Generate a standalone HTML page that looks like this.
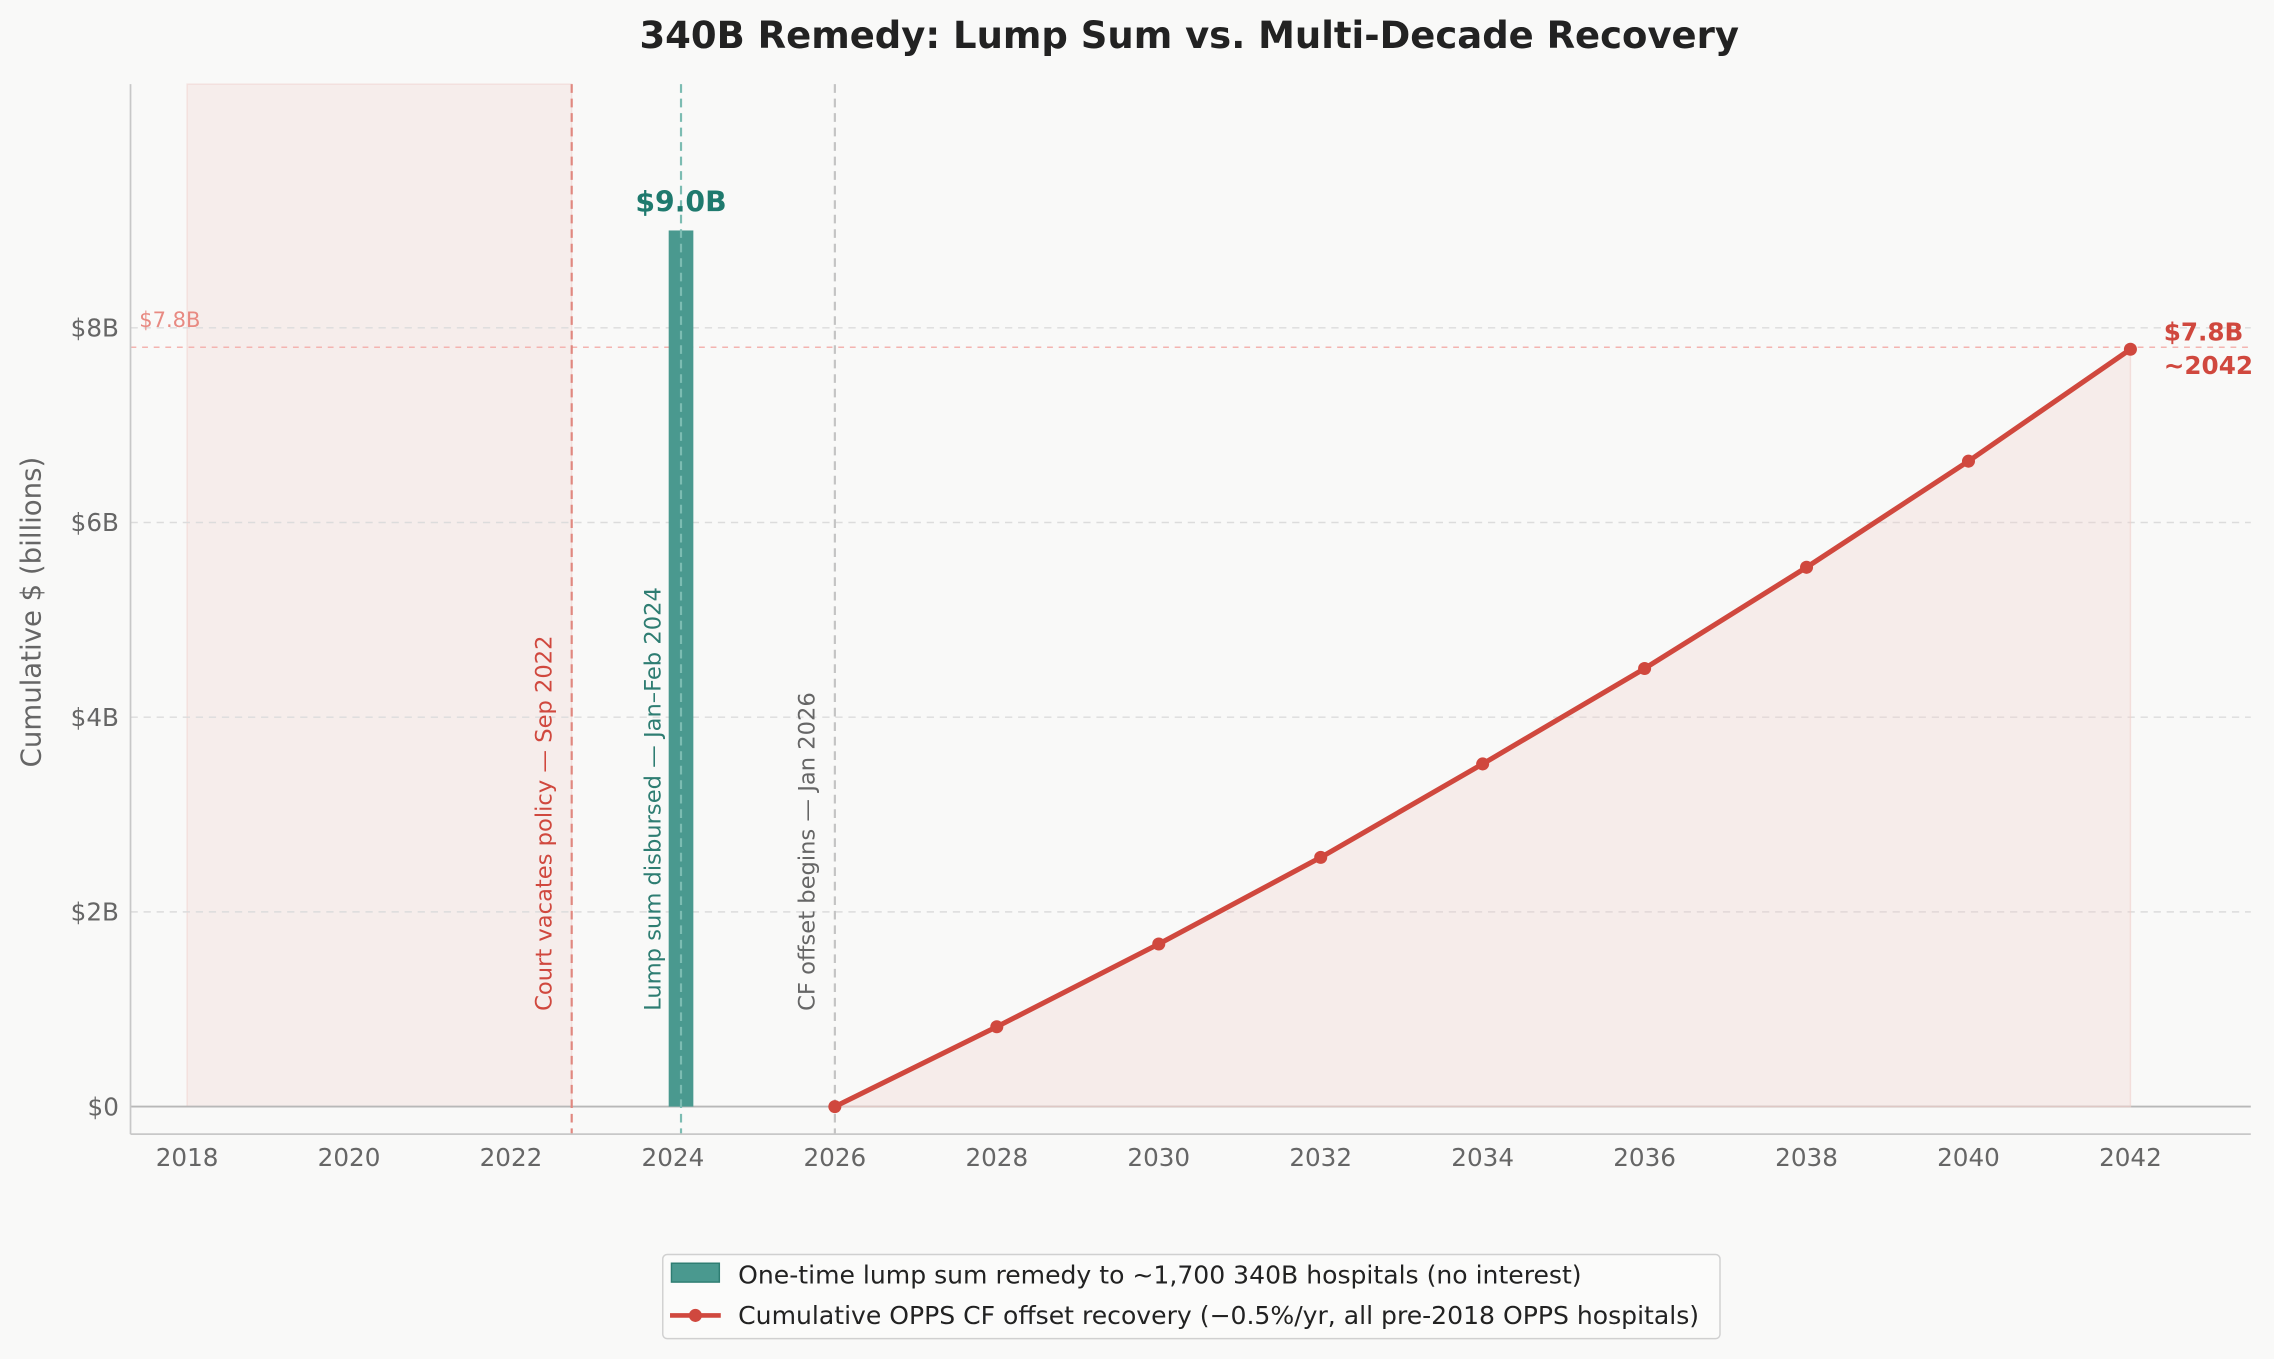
<!DOCTYPE html>
<html><head><meta charset="utf-8"><style>
html,body{margin:0;padding:0;background:#f9f9f8;}
svg{display:block;font-family:"DejaVu Sans","Liberation Sans",sans-serif;}
</style></head><body>
<svg id="chart" width="2274" height="1359" viewBox="0 0 1568 937" xmlns="http://www.w3.org/2000/svg">
<rect x="0" y="0" width="1568" height="937" fill="#f9f9f8"/>
<text x="820" y="33" text-anchor="middle" font-size="25.5" font-weight="bold" fill="#222">340B Remedy: Lump Sum vs. Multi-Decade Recovery</text>
<g id="plot"></g>
<text transform="translate(28,422) rotate(-90)" text-anchor="middle" font-size="19" fill="#666">Cumulative $ (billions)</text>
<g>
<rect x="457" y="865" width="729" height="58" rx="3" fill="#fbfbfa" stroke="#d0d0d0"/>
<rect x="463" y="871" width="33" height="13" fill="#4a998f" stroke="#2e7d72"/>
<text x="509" y="885" font-size="17.3" fill="#222">One-time lump sum remedy to ~1,700 340B hospitals (no interest)</text>
<line x1="462" y1="907" x2="497" y2="907" stroke="#d0483e" stroke-width="3.2"/>
<circle cx="479.5" cy="907" r="4.5" fill="#d0483e"/>
<text x="509" y="913" font-size="17.3" fill="#222">Cumulative OPPS CF offset recovery (−0.5%/yr, all pre-2018 OPPS hospitals)</text>
</g>
</svg>
<script>
const years = [2026, 2028, 2030, 2032, 2034, 2036, 2038, 2040, 2042];
const cumulative = [0, 0.82, 1.67, 2.56, 3.52, 4.5, 5.54, 6.63, 7.78];
const lumpYear = [2024.1];
const lumpValue = [9.0];
const xTicks = [2018, 2020, 2022, 2024, 2026, 2028, 2030, 2032, 2034, 2036, 2038, 2040, 2042];
const yTicks = [0, 2, 4, 6, 8];
const yTickLabels = ["$0", "$2B", "$4B", "$6B", "$8B"];
const courtYear = [2022.75];
const offsetStartYear = [2026];
const targetValue = [7.8];

const NS = "http://www.w3.org/2000/svg";
const g = document.getElementById('plot');
const X = v => 129 + (v - 2018) * (1340 / 24);
const Y = v => 763 - v * 67.125;
const L = 90, R = 1552, T = 58, B = 782;
function el(tag, attrs, parent) {
  const e = document.createElementNS(NS, tag);
  for (const k in attrs) e.setAttribute(k, attrs[k]);
  (parent || g).appendChild(e);
  return e;
}
let e = el('rect', {x: X(2018), y: T, width: X(courtYear[0]) - X(2018), height: Y(0) - T, fill: '#f0d0cc', 'fill-opacity': 0.3, stroke: '#f0d0cc', 'stroke-opacity': 0.5});


yTicks.forEach((t, i) => {
  if (t === 0) return;
  const gl = el('line', {x1: L, x2: R, y1: Y(t), y2: Y(t), stroke: '#dcdcdc', 'stroke-dasharray': '5,4', 'stroke-width': 1});
  
  
});
e = el('line', {x1: L, x2: R, y1: Y(0), y2: Y(0), stroke: '#b8b8b8', 'stroke-width': 1.3});


e = el('line', {x1: L, x2: R, y1: Y(targetValue[0]), y2: Y(targetValue[0]), stroke: '#f4b4b0', 'stroke-dasharray': '4,4', 'stroke-width': 1});


e = el('text', {x: 96, y: Y(targetValue[0]) - 14, 'font-size': 14.5, fill: '#e88a82'});
e.textContent = '$' + targetValue[0].toFixed(1) + 'B';


let pts = years.map((y, i) => X(y) + ',' + Y(cumulative[i])).join(' ');
e = el('polygon', {points: X(years[0]) + ',' + Y(0) + ' ' + pts + ' ' + X(years[years.length - 1]) + ',' + Y(0), fill: '#f0d0cc', 'fill-opacity': 0.32, stroke: '#f0d0cc', 'stroke-opacity': 0.6});


e = el('line', {x1: X(courtYear[0]), x2: X(courtYear[0]), y1: T, y2: B, stroke: '#e08880', 'stroke-dasharray': '6,4', 'stroke-width': 1.5});


e = el('line', {x1: X(offsetStartYear[0]), x2: X(offsetStartYear[0]), y1: T, y2: B, stroke: '#c4c4c4', 'stroke-dasharray': '6,4', 'stroke-width': 1.5});


const bw = 17;
e = el('rect', {x: X(lumpYear[0]) - bw / 2, y: Y(lumpValue[0]), width: bw, height: Y(0) - Y(lumpValue[0]), fill: '#4a998f'});


e = el('line', {x1: X(lumpYear[0]), x2: X(lumpYear[0]), y1: T, y2: B, stroke: '#7cbcb2', 'stroke-dasharray': '6,4', 'stroke-width': 1.5});


e = el('text', {x: X(lumpYear[0]), y: Y(lumpValue[0]) - 13, 'text-anchor': 'middle', 'font-size': 19.5, 'font-weight': 'bold', fill: '#1f7a6e'});
e.textContent = '$' + lumpValue[0].toFixed(1) + 'B';


function vtext(x, txt, color, name) {
  const t = el('text', {transform: 'translate(' + x + ',697) rotate(-90)', 'font-size': 15.6, fill: color});
  t.textContent = txt;
  
  
}
vtext(X(courtYear[0]) - 14, 'Court vacates policy — Sep 2022', '#d0483e', 'court-vacates-annotation');
vtext(X(lumpYear[0]) - 14, 'Lump sum disbursed — Jan–Feb 2024', '#2e7d72', 'lump-sum-annotation');
vtext(X(offsetStartYear[0]) - 14, 'CF offset begins — Jan 2026', '#666', 'offset-begins-annotation');
e = el('polyline', {points: pts, fill: 'none', stroke: '#d0483e', 'stroke-width': 3.5, 'stroke-linejoin': 'round'});


years.forEach((y, i) => {
  const c = el('circle', {cx: X(y), cy: Y(cumulative[i]), r: 4.5, fill: '#d0483e'});
  
  
});
const last = cumulative.length - 1;
e = el('text', {x: 1492, y: Y(cumulative[last]) - 6, 'font-size': 17, 'font-weight': 'bold', fill: '#d0483e'});
e.textContent = '$' + cumulative[last].toFixed(1) + 'B';


e = el('text', {x: 1492, y: Y(cumulative[last]) + 17, 'font-size': 17, 'font-weight': 'bold', fill: '#d0483e'});
e.textContent = '~' + years[last];


e = el('line', {x1: L, x2: L, y1: T, y2: B, stroke: '#c8c8c8', 'stroke-width': 1.2});


e = el('line', {x1: L, x2: R, y1: B, y2: B, stroke: '#c8c8c8', 'stroke-width': 1.2});


xTicks.forEach(t => {
  const tx = el('text', {x: X(t), y: 804, 'text-anchor': 'middle', 'font-size': 17, fill: '#666'});
  tx.textContent = t;
  
  
});
yTicks.forEach((t, i) => {
  const ty = el('text', {x: 82, y: Y(t) + 6, 'text-anchor': 'end', 'font-size': 17, fill: '#666'});
  ty.textContent = yTickLabels[i];
  
  
});
</script>
</body></html>
